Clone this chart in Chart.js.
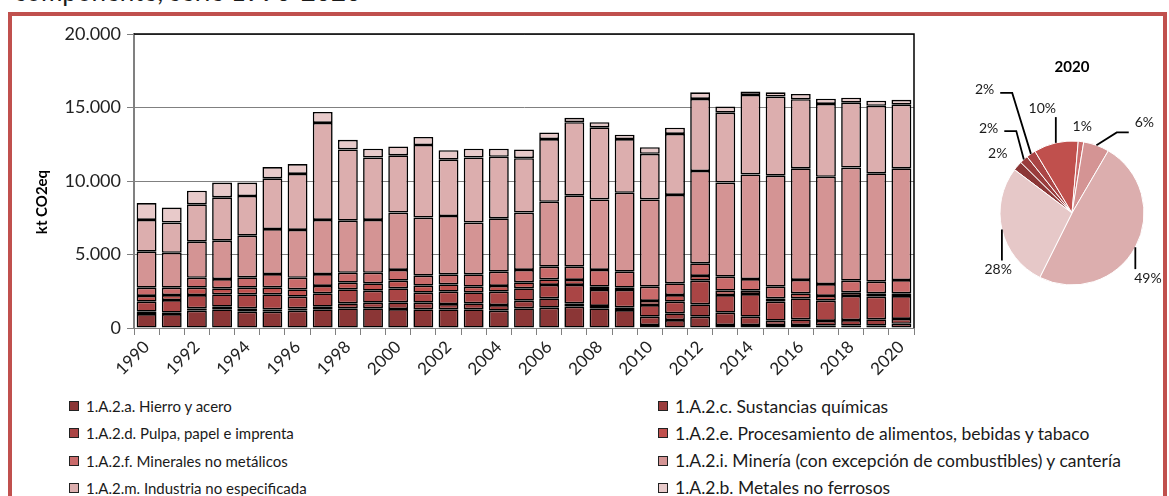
<!DOCTYPE html>
<html lang="es">
<head>
<meta charset="utf-8">
<script src="https://cdn.jsdelivr.net/npm/chart.js@4.4.1/dist/chart.umd.min.js"></script>
<style>
  html, body { margin: 0; padding: 0; background: #fff; }
  body { width: 1169px; height: 496px; overflow: hidden; position: relative; font-family: Lato, "Open Sans", sans-serif; color: #1a1a1a; }
  #titulo { position: absolute; left: 14px; top: -22px; font-size: 26px; line-height: 26px; white-space: nowrap; }
  #marco { position: absolute; left: 8px; top: 12px; width: 1151px; height: 520px; border: 4px solid #c0504d; border-bottom: none; }
  #barras { position: absolute; left: 0; top: 0; }
  #torta { position: absolute; left: 940px; top: 50px; }
  .item { position: absolute; height: 20px; display: flex; align-items: center; white-space: nowrap; font-size: 15px; }
  .item.der { font-size: 17.5px; }
  .item i { display: inline-block; width: 8px; height: 8px; border: 1px solid #222; margin-right: 7px; }
</style>
</head>
<body>
<div id="titulo">componente, serie 1990-2020</div>
<div id="marco"></div>
<canvas id="barras" width="935" height="395"></canvas>
<canvas id="torta" width="229" height="260"></canvas>
<div id="leyenda"></div>

<script>
// Emisiones del subsector industrias manufactureras (kt CO2eq)
var anos = [1990, 1991, 1992, 1993, 1994, 1995, 1996, 1997, 1998, 1999, 2000,
  2001, 2002, 2003, 2004, 2005, 2006, 2007, 2008, 2009, 2010,
  2011, 2012, 2013, 2014, 2015, 2016, 2017, 2018, 2019, 2020];

var hierroAcero = [950, 950, 1180, 1270, 1110, 1110, 1180, 1270, 1340, 1340, 1290,
  1270, 1270, 1270, 1180, 1340, 1380, 1450, 1340, 1220, 200,
  540, 770, 200, 200, 200, 200, 160, 160, 160, 290];
var sustQuimicas = [160, 90, 160, 180, 230, 160, 160, 180, 340, 380, 460,
  450, 360, 410, 380, 520, 640, 230, 160, 190, 570,
  460, 840, 840, 570, 300, 390, 320, 380, 430, 330];
var pulpaPapel = [680, 860, 900, 840, 950, 1020, 790, 910, 950, 820, 950,
  680, 840, 750, 910, 840, 910, 1250, 1090, 1180, 790,
  790, 1610, 1200, 1540, 1290, 1430, 1380, 1640, 1540, 1550];
var alimentos = [390, 340, 500, 410, 450, 480, 500, 500, 450, 500, 520,
  480, 500, 380, 390, 410, 380, 340, 220, 150, 280,
  450, 320, 300, 230, 230, 340, 320, 250, 230, 190];
var minerales = [560, 500, 680, 630, 710, 900, 790, 810, 680, 720, 730,
  680, 680, 840, 970, 840, 860, 900, 1140, 1090, 970,
  800, 860, 950, 790, 790, 910, 810, 790, 790, 900];
var mineria = [2450, 2380, 2450, 2610, 2830, 3060, 3250, 3680, 3540, 3590, 3900,
  3950, 3970, 3520, 3630, 3900, 4420, 4830, 4800, 5370, 5940,
  6010, 6280, 6400, 7120, 7550, 7590, 7300, 7690, 7370, 7600];
var noEspecificada = [2160, 2050, 2540, 2950, 2700, 3450, 3810, 6600, 4850, 4250, 3900,
  4940, 3830, 4430, 4190, 3700, 4260, 5000, 4900, 3650, 3100,
  4150, 4900, 4760, 5400, 5380, 4700, 4950, 4420, 4600, 4330];
var noFerrosos = [1150, 1020, 930, 1000, 910, 770, 670, 750, 650, 600, 600,
  550, 650, 600, 550, 600, 450, 300, 350, 300, 450,
  430, 450, 410, 230, 290, 360, 360, 340, 340, 330];

var nombres = [
  "1.A.2.a. Hierro y acero",
  "1.A.2.c. Sustancias químicas",
  "1.A.2.d. Pulpa, papel e imprenta",
  "1.A.2.e. Procesamiento de alimentos, bebidas y tabaco",
  "1.A.2.f. Minerales no metálicos",
  "1.A.2.i. Minería (con excepción de combustibles) y cantería",
  "1.A.2.m. Industria no especificada",
  "1.A.2.b. Metales no ferrosos"
];
var valores = [hierroAcero, sustQuimicas, pulpaPapel, alimentos, minerales, mineria, noEspecificada, noFerrosos];
var yTicks = [0, 5000, 10000, 15000, 20000];

// paleta, de oscuro a claro
var colores = ["#8b3636", "#9a3c3c", "#aa4545", "#c0504d", "#ca6b6b", "#d49494", "#dcaeae", "#e8caca"];

// la torta 2020 lleva los metales no ferrosos primero
var ordenTorta = [7, 0, 1, 2, 3, 4, 5, 6];
var coloresTorta = ["#8b3636", "#9a3c3c", "#aa4545", "#c0504d", "#ca6b6b", "#d49494", "#dcaeae", "#e6c8c8"];

// ubicacion de etiquetas de la torta: giro (grados) y distancia al centro
var posEtiquetas = [
  { giro: -2.3, dist: 95, guia: "" },
  { giro: -2.5, dist: 119, guia: "codo", dy: 3 },
  { giro: -0.6, dist: 151, guia: "codo", dy: 3 },
  { giro: -2.8, dist: 109, guia: "recta" },
  { giro: -0.4, dist: 87, guia: "" },
  { giro: 18.8, dist: 116, guia: "codo", dy: 10 },
  { giro: 12.2, dist: 100, guia: "recta" },
  { giro: -24.2, dist: 93, guia: "recta" }
];

function miles(v) {
  return String(v).replace(/\B(?=(\d{3})+(?!\d))/g, ".");
}

var fuente = "Lato, 'Open Sans', sans-serif";

var marcoPlot = {
  id: "marcoPlot",
  afterDraw: function(chart) {
    var ctx = chart.ctx, a = chart.chartArea;
    ctx.save();
    ctx.strokeStyle = "#000";
    ctx.lineWidth = 1.5;
    ctx.beginPath();
    ctx.moveTo(a.left, a.top);
    ctx.lineTo(a.right, a.top);
    ctx.lineTo(a.right, a.bottom);
    ctx.stroke();
    // titulo del eje Y
    ctx.translate(42, (a.top + a.bottom) / 2 + 21);
    ctx.rotate(-Math.PI / 2);
    ctx.font = "bold 15px " + fuente;
    ctx.fillStyle = "#000";
    ctx.textAlign = "center";
    ctx.textBaseline = "middle";
    ctx.fillText("kt CO2eq", 0, 0);
    ctx.restore();
  }
};

var datasets = valores.map(function(serie, k) {
  return {
    label: nombres[k],
    data: serie,
    backgroundColor: colores[k],
    borderColor: "#000",
    borderWidth: 1.6,
    borderSkipped: false,
    barPercentage: 0.79,
    categoryPercentage: 1
  };
});

new Chart(document.getElementById("barras").getContext("2d"), {
  type: "bar",
  data: { labels: anos, datasets: datasets },
  options: {
    responsive: false,
    animation: false,
    layout: { padding: { left: 0, right: 21, top: 34, bottom: 0 } },
    plugins: { legend: { display: false }, tooltip: { enabled: false } },
    scales: {
      x: {
        stacked: true,
        grid: { drawOnChartArea: false, drawTicks: true, tickLength: 7, color: "#808080", offset: true },
        border: { color: "#808080", width: 1 },
        ticks: {
          autoSkip: false,
          maxRotation: 45,
          minRotation: 45,
          padding: 2,
          color: "#222",
          font: { family: fuente, size: 17 },
          callback: function(v, i) { return i % 2 === 0 ? String(anos[i]) : ""; }
        },
        afterFit: function(s) { s.height = 395 - 328; }
      },
      y: {
        stacked: true,
        min: 0,
        max: 20000,
        afterBuildTicks: function(s) { s.ticks = yTicks.map(function(v) { return { value: v }; }); },
        grid: { color: "#808080", tickLength: 7 },
        border: { color: "#808080", width: 2 },
        ticks: {
          padding: 6,
          color: "#222",
          font: { family: fuente, size: 18 },
          callback: function(v) { return miles(v); }
        },
        afterFit: function(s) { s.width = 134; }
      }
    }
  },
  plugins: [marcoPlot]
});

var etiquetasTorta = {
  id: "etiquetasTorta",
  afterDraw: function(chart) {
    var ctx = chart.ctx;
    var meta = chart.getDatasetMeta(0);
    var vals = chart.data.datasets[0].data;
    var total = vals.reduce(function(s, v) { return s + v; }, 0);
    ctx.save();
    ctx.font = "14px " + fuente;
    ctx.fillStyle = "#1a1a1a";
    ctx.strokeStyle = "#000";
    ctx.lineWidth = 1.8;
    ctx.textAlign = "center";
    ctx.textBaseline = "middle";
    meta.data.forEach(function(arc, k) {
      var p = arc.getProps(["x", "y", "startAngle", "endAngle", "outerRadius"], true);
      var mid = (p.startAngle + p.endAngle) / 2;
      var lay = posEtiquetas[k];
      var ang = mid + lay.giro * Math.PI / 180;
      var lx = p.x + Math.cos(ang) * lay.dist;
      var ly = p.y + Math.sin(ang) * lay.dist;
      var txt = Math.round(vals[k] / total * 100) + "%";
      var w = ctx.measureText(txt).width, h = 12;
      var ex = p.x + Math.cos(mid) * p.outerRadius;
      var ey = p.y + Math.sin(mid) * p.outerRadius;
      if (lay.guia === "codo") {
        var lado = lx < p.x ? 1 : -1;
        var bx = lx + lado * (w / 2 + 6);
        var hy = ly + lay.dy;
        ctx.beginPath();
        ctx.moveTo(bx, hy);
        ctx.lineTo(bx + lado * 12, hy);
        ctx.lineTo(ex, ey);
        ctx.stroke();
      } else if (lay.guia === "recta") {
        var px = Math.min(Math.max(ex, lx - w / 2), lx + w / 2);
        var py = Math.min(Math.max(ey, ly - h / 2 - 3), ly + h / 2 + 3);
        ctx.beginPath();
        ctx.moveTo(ex, ey);
        ctx.lineTo(px, py);
        ctx.stroke();
      }
      ctx.fillText(txt, lx, ly);
    });
    ctx.font = "bold 15px " + fuente;
    ctx.fillStyle = "#000";
    ctx.fillText("2020", meta.data[0].x, 17);
    ctx.restore();
  }
};

var ultimo = anos.length - 1;
new Chart(document.getElementById("torta").getContext("2d"), {
  type: "pie",
  data: {
    labels: ordenTorta.map(function(k) { return nombres[k]; }),
    datasets: [{
      data: ordenTorta.map(function(k) { return valores[k][ultimo]; }),
      backgroundColor: coloresTorta,
      borderColor: "#fff",
      borderWidth: 1
    }]
  },
  options: {
    responsive: false,
    animation: false,
    radius: 72,
    rotation: -53,
    layout: { padding: { left: 40, right: 5, top: 70, bottom: 4 } },
    plugins: { legend: { display: false }, tooltip: { enabled: false } }
  },
  plugins: [etiquetasTorta]
});

// leyenda en dos columnas
var leyenda = document.getElementById("leyenda");
nombres.forEach(function(n, k) {
  var d = document.createElement("div");
  d.className = "item" + (k % 2 === 1 ? " der" : "");
  d.style.left = (k % 2 === 0 ? 69 : 658) + "px";
  d.style.top = (396 + Math.floor(k / 2) * 27.3) + "px";
  d.innerHTML = '<i style="background:' + colores[k] + '"></i>' + n;
  leyenda.appendChild(d);
});
</script>
</body>
</html>
